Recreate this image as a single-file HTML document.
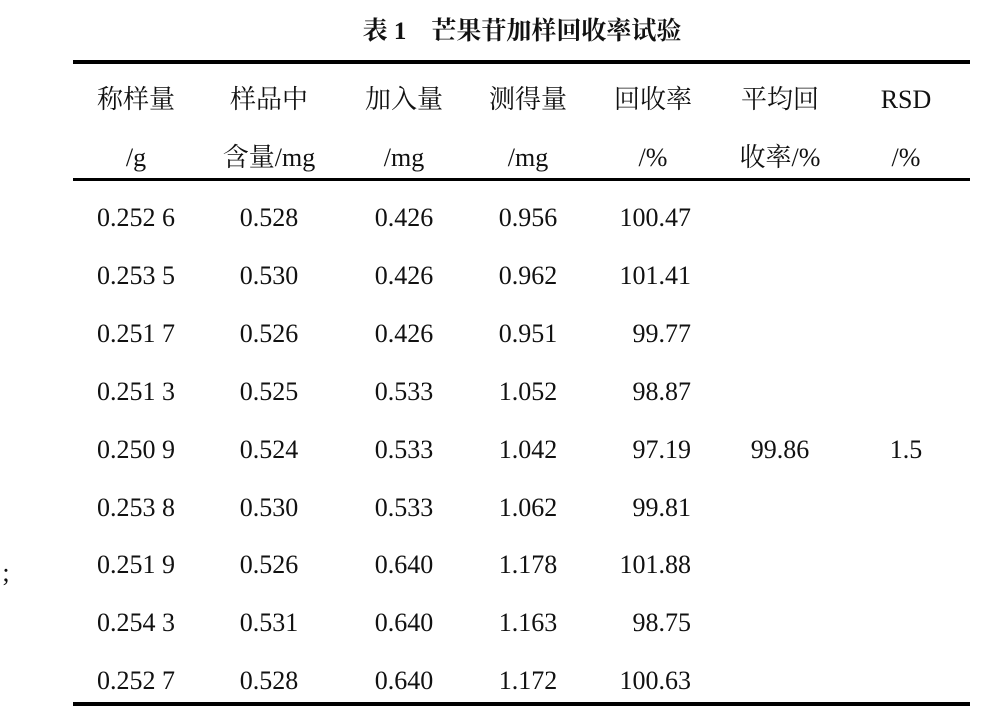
<!DOCTYPE html>
<html><head><meta charset="utf-8"><style>
body{margin:0;width:1001px;height:718px;background:#fff;position:relative;overflow:hidden;font-family:"Liberation Serif","Noto Serif CJK SC","Noto Sans CJK SC",serif;color:#111}
.t{position:absolute;font-size:26px;line-height:30px;white-space:nowrap;transform:translate(-50%,-50%)}
.r{position:absolute;font-size:26px;line-height:30px;white-space:nowrap;transform:translate(-100%,-50%)}
.ln{position:absolute;left:73px;width:897px;background:#000}
</style></head><body>
<div class="t" style="left:522px;top:32px;font-weight:bold;font-size:25px">表 1　芒果苷加样回收率试验</div>
<div class="ln" style="top:60px;height:4px"></div>
<div class="ln" style="top:178px;height:3px"></div>
<div class="ln" style="top:702px;height:4px"></div>
<div class="t" style="left:6px;top:573px">;</div>
<div id="tb"></div>
<script>
const headers1=["称样量","样品中","加入量","测得量","回收率","平均回","RSD"];
const headers2=["/g","含量/mg","/mg","/mg","/%","收率/%","/%"];
const weights=["0.252 6","0.253 5","0.251 7","0.251 3","0.250 9","0.253 8","0.251 9","0.254 3","0.252 7"];
const contents=["0.528","0.530","0.526","0.525","0.524","0.530","0.526","0.531","0.528"];
const added=["0.426","0.426","0.426","0.533","0.533","0.533","0.640","0.640","0.640"];
const measured=["0.956","0.962","0.951","1.052","1.042","1.062","1.178","1.163","1.172"];
const recovery=["100.47","101.41","99.77","98.87","97.19","99.81","101.88","98.75","100.63"];
const avgRecovery="99.86", rsd="1.5";
const cx=[136,269,404,528,653,780,906];
const tb=document.getElementById('tb');
function add(cls,x,y,txt,name){const d=document.createElement('div');d.className=cls;d.style.left=x+'px';d.style.top=y+'px';d.textContent=txt;


tb.appendChild(d);}
headers1.forEach((h,i)=>add('t',cx[i],100,h,'header-cell'));
headers2.forEach((h,i)=>add('t',cx[i],158,h,'header-unit-cell'));
for(let i=0;i<weights.length;i++){const y=218+i*57.9;
add('t',cx[0],y,weights[i],'weight-cell');
add('t',cx[1],y,contents[i],'content-cell');
add('t',cx[2],y,added[i],'added-cell');
add('t',cx[3],y,measured[i],'measured-cell');
add('r',691,y,recovery[i],'recovery-cell');}
add('t',cx[5],450,avgRecovery,'avg-recovery-cell');
add('t',cx[6],450,rsd,'rsd-cell');
</script>
</body></html>
